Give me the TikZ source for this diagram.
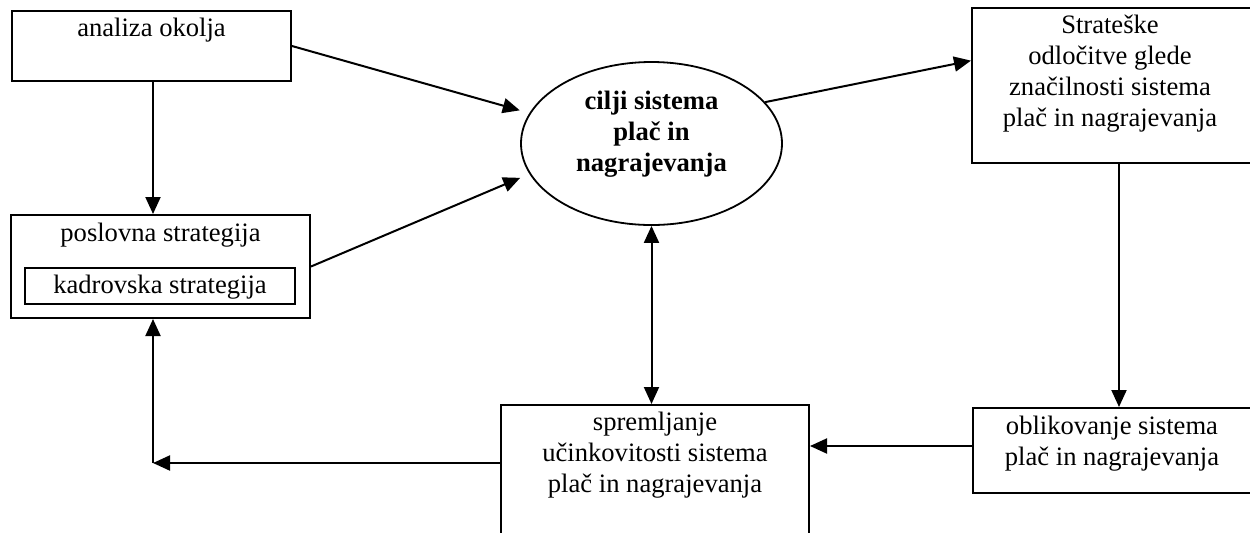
\documentclass[tikz,border=0pt]{standalone}
\usepackage{fontspec}
\setmainfont{Liberation Serif}
\usetikzlibrary{shapes.geometric,arrows.meta,calc}
\begin{document}
\begin{tikzpicture}[x=0.5pt,y=-0.5pt,
  box/.style={draw,rectangle,line width=1pt,inner sep=0pt},
  lbl/.style={inner sep=0pt,align=center,font=\fontsize{13.3pt}{15.5pt}\selectfont},
  arr/.style={line width=1pt,-{Triangle[length=8.5pt,width=7.5pt]}},
  biarr/.style={line width=1pt,{Triangle[length=8.5pt,width=7.5pt]}-{Triangle[length=8.5pt,width=7.5pt]}},
]
\useasboundingbox (0,0) rectangle (1250,532);

% environment analysis
\node[box,minimum width=139.5pt,minimum height=35pt] (okolje) at (151.5,46) {};
\node[lbl,anchor=base] (okoljeT) at (151.5,36) {analiza okolja};

% business strategy with the HR strategy inside
\node[box,minimum width=149.5pt,minimum height=51.5pt] (poslovna) at (160.5,266.5) {};
\node[lbl,anchor=base] (poslovnaT) at (160.5,241) {poslovna strategija};
\node[box,minimum width=135pt,minimum height=18pt] (kadrovska) at (160,286) {};
\node[lbl,anchor=base] (kadrovskaT) at (160,293) {kadrovska strategija};

% goals of the pay system
\node[draw,ellipse,line width=0.9pt,inner sep=0pt,minimum width=130.5pt,minimum height=81.5pt] (cilji) at (651.5,143.5) {};
\node[lbl,anchor=north,font=\fontsize{13.3pt}{15.5pt}\selectfont\bfseries] (ciljiT) at (651.5,91) {cilji sistema\\plač in\\nagrajevanja};

% strategic decisions
\node[box,minimum width=140pt,minimum height=77.5pt] (odlocitve) at (1112,85.5) {};
\node[lbl,anchor=north] (odlocitveT) at (1110,15) {Strateške\\odločitve glede\\značilnosti sistema\\plač in nagrajevanja};

% design of the pay system
\node[box,minimum width=139.5pt,minimum height=42.5pt] (oblikovanje) at (1112.5,450.5) {};
\node[lbl,anchor=north] (oblikovanjeT) at (1112,416) {oblikovanje sistema\\plač in nagrajevanja};

% monitoring effectiveness
\node[box,minimum width=154pt,minimum height=65pt] (spremljanje) at (655,470) {};
\node[lbl,anchor=north] (spremljanjeT) at (655,412) {spremljanje\\učinkovitosti sistema\\plač in nagrajevanja};

% helper points for the connector lines
\coordinate (vx) at (1119,0);
\coordinate (hy) at (0,446);
\coordinate (corner) at (153,463);

% connectors
\draw[arr] (okolje.south -| corner) -- (poslovna.north -| corner);
\draw[arr,shorten >=5pt] (okolje.east) -- (cilji.166);
\draw[arr,shorten >=5pt] (poslovna.east) -- (cilji.194);
\draw[arr] (cilji.20.5) -- (odlocitve.170.5);
\draw[arr] (odlocitve.south -| vx) -- (oblikovanje.north -| vx);
\draw[arr] (oblikovanje.west |- hy) -- (spremljanje.east |- hy);
\draw[biarr] (cilji.south) -- (cilji.south |- spremljanje.north);
\draw[arr] (spremljanje.west |- corner) -- (corner);
\draw[arr] (corner) -- (corner |- poslovna.south);
\end{tikzpicture}
\end{document}
